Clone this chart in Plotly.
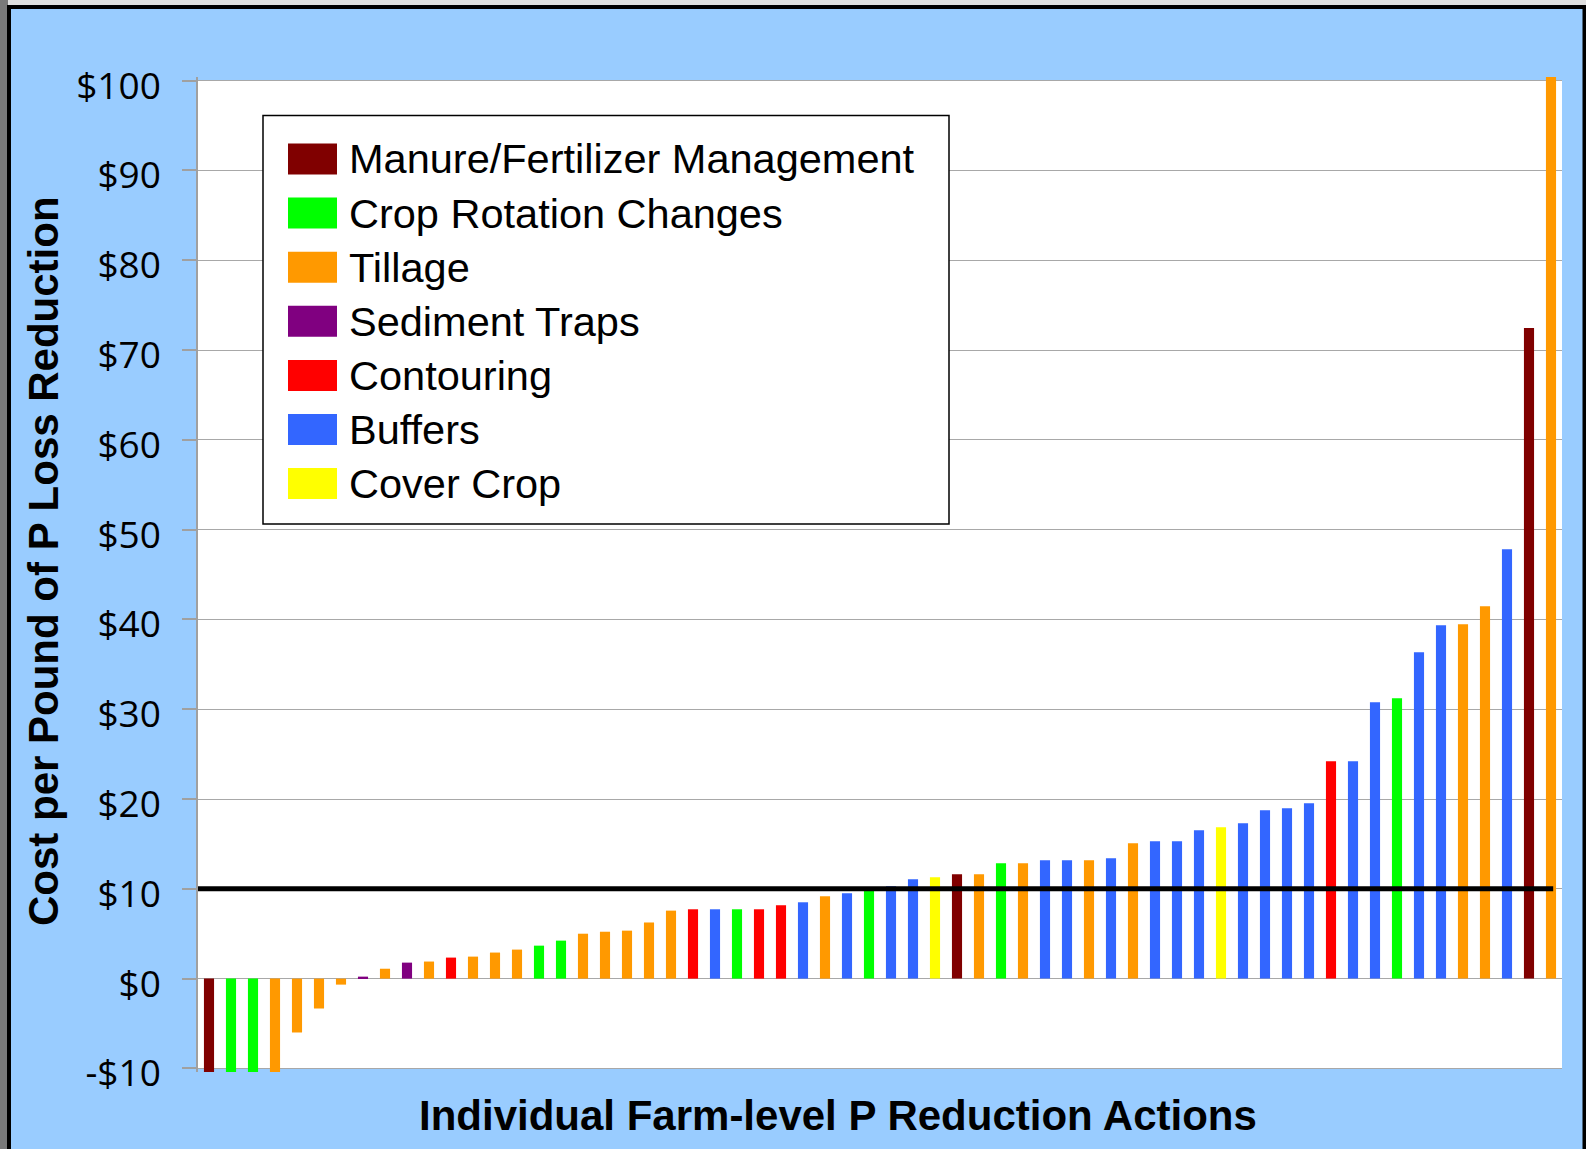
import plotly.graph_objects as go

# ---------------- data ----------------
categories = ["Manure/Fertilizer Management", "Crop Rotation Changes", "Tillage",
              "Sediment Traps", "Contouring", "Buffers", "Cover Crop"]
category_codes = ["M", "C", "T", "S", "N", "B", "Y"]
category_colors = ["#800000", "#00FF00", "#FF9900", "#800080", "#FF0000", "#3366FF", "#FFFF00"]

action_type = ["M", "C", "C", "T", "T", "T", "T", "S", "T", "S",
               "T", "N", "T", "T", "T", "C", "C", "T", "T", "T",
               "T", "T", "N", "B", "C", "N", "N", "B", "T", "B",
               "C", "B", "B", "Y", "M", "T", "C", "T", "B", "B",
               "T", "B", "T", "B", "B", "B", "Y", "B", "B", "B",
               "B", "N", "B", "B", "C", "B", "B", "T", "T", "B",
               "M", "T"]
action_cost = [-10.4, -10.4, -10.4, -10.4, -6.0, -3.33, -0.67, 0.22, 1.1, 1.78,
               1.9, 2.34, 2.45, 2.9, 3.23, 3.67, 4.23, 5.0, 5.22, 5.34,
               6.25, 7.57, 7.72, 7.72, 7.72, 7.72, 8.17, 8.5, 9.17, 9.5,
               9.9, 10.28, 11.06, 11.28, 11.62, 11.62, 12.84, 12.84, 13.18, 13.18,
               13.18, 13.4, 15.07, 15.29, 15.29, 16.52, 16.85, 17.3, 18.75, 18.97,
               19.52, 24.2, 24.2, 30.77, 31.22, 36.34, 39.35, 39.46, 41.46, 47.81,
               72.45, 100.4]
action_index = list(range(1, len(action_cost) + 1))

tick_values = [-10, 0, 10, 20, 30, 40, 50, 60, 70, 80, 90, 100]
tick_labels = ["-$10", "$0", "$10", "$20", "$30", "$40", "$50", "$60", "$70", "$80", "$90", "$100"]
threshold = 10

y_title = "Cost per Pound of P Loss Reduction"
x_title = "Individual Farm-level P Reduction Actions"

# ---------------- layout geometry ----------------
W, H = 1586, 1149
L, R, T, B = 198, 24, 77, 77
PW, PH = W - L - R, H - T - B


def px(x):
    return (x - L) / PW


def py(y):
    return (H - B - y) / PH


fig = go.Figure()

for code, name, color in zip(category_codes, categories, category_colors):
    xs = [i for i, t in zip(action_index, action_type) if t == code]
    ys = [v for v, t in zip(action_cost, action_type) if t == code]
    fig.add_trace(go.Bar(x=xs, y=ys, name=name, marker=dict(color=color, line=dict(width=0)),
                         width=0.46, showlegend=False))

shapes = []
# outer frame
shapes.append(dict(type="rect", xref="paper", yref="paper", x0=px(0), x1=px(8), y0=py(H + 20), y1=py(0),
                   fillcolor="#7a7a7a", line=dict(width=0), layer="below"))
shapes.append(dict(type="rect", xref="paper", yref="paper", x0=px(9), x1=px(1584.5), y0=py(H + 20), y1=py(7),
                   fillcolor="#99CCFF", line=dict(color="black", width=4), layer="below"))
# white plotting area
shapes.append(dict(type="rect", xref="x", yref="y", x0=0.5, x1=len(action_cost) + 0.5, y0=-10, y1=100,
                   fillcolor="white", line=dict(width=0), layer="below"))
# threshold line
shapes.append(dict(type="line", xref="x", yref="y", x0=0.5, x1=len(action_cost) + 0.1, y0=threshold, y1=threshold,
                   line=dict(color="black", width=5), layer="above"))

# manual legend
shapes.append(dict(type="rect", xref="paper", yref="paper", x0=px(263), x1=px(949), y0=py(524), y1=py(115.5),
                   fillcolor="white", line=dict(color="black", width=1.5), layer="above"))
annotations = []
row0, row_step = 159.0, 54.1
for i, (name, color) in enumerate(zip(categories, category_colors)):
    cy = row0 + i * row_step
    shapes.append(dict(type="rect", xref="paper", yref="paper", x0=px(288), x1=px(337),
                       y0=py(cy + 15.5), y1=py(cy - 15.5), fillcolor=color, line=dict(width=0), layer="above"))
    annotations.append(dict(text=name, xref="paper", yref="paper", x=px(347), y=py(cy),
                            xanchor="left", yanchor="middle", showarrow=False,
                            font=dict(family="Liberation Sans, Arial, sans-serif", size=41.5, color="black")))

annotations.append(dict(text=y_title, xref="paper", yref="paper", x=px(43), y=py(561), textangle=-90,
                        xanchor="center", yanchor="middle", showarrow=False,
                        font=dict(family="Liberation Sans, Arial, sans-serif", size=42, color="black", weight="bold")))
annotations.append(dict(text=x_title, xref="paper", yref="paper", x=px(838), y=py(1115),
                        xanchor="center", yanchor="middle", showarrow=False,
                        font=dict(family="Liberation Sans, Arial, sans-serif", size=42, color="black", weight="bold")))

fig.update_layout(
    width=W, height=H,
    margin=dict(l=L, r=R, t=T, b=B, pad=0),
    paper_bgcolor="#E0E0E0",
    plot_bgcolor="#99CCFF",
    barmode="overlay",
    shapes=shapes,
    annotations=annotations,
    showlegend=False,
    xaxis=dict(range=[0.5, len(action_cost) + 0.5], showticklabels=False, showgrid=False,
               zeroline=False, showline=False, ticks=""),
    yaxis=dict(range=[-10.4, 100.4], tickvals=tick_values, ticktext=tick_labels,
               showgrid=True, gridcolor="#A8A8A8", gridwidth=1.2, zeroline=False,
               showline=True, linecolor="#A0A0A0", linewidth=1.5,
               ticks="outside", ticklen=14, tickcolor="#A0A0A0", tickwidth=1.5,
               ticklabelstandoff=14, ticklabelshift=5,
               tickfont=dict(family="Open Sans, sans-serif", size=37, color="black")),
)

fig.write_html("out.html", config={"displayModeBar": False},
               post_script="document.body.style.margin='0';document.body.style.overflow='hidden';")
